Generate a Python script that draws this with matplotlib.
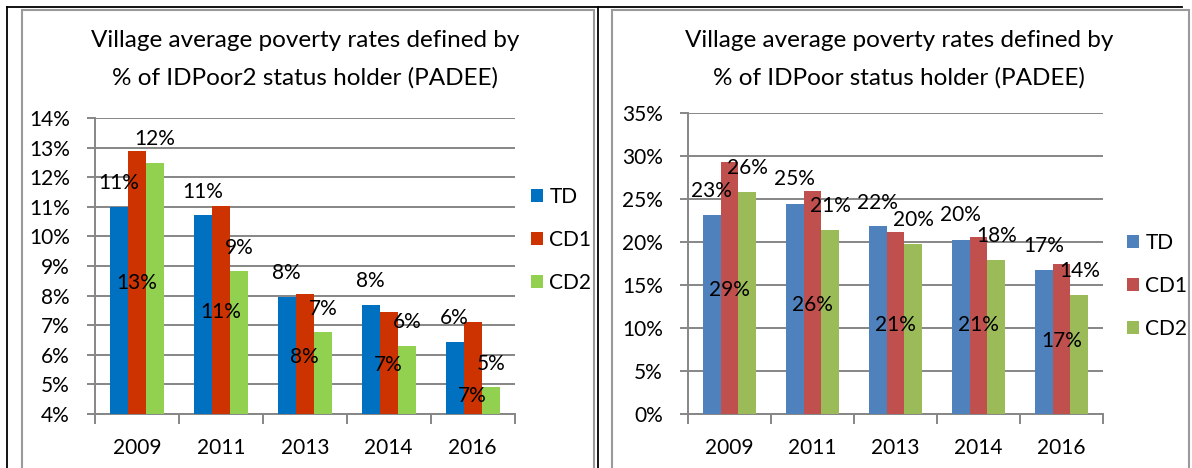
import numpy as np
import matplotlib.pyplot as plt
from matplotlib.patches import Rectangle
from matplotlib.lines import Line2D

plt.rcParams['font.family'] = ['Lato', 'DejaVu Sans']

# данні
years = ['2009', '2011', '2013', '2014', '2016']
series = ['TD', 'CD1', 'CD2']

# ліва діаграма: IDPoor2 (%)
td_p2 = [11.0, 10.73, 7.95, 7.67, 6.43]
cd1_p2 = [12.9, 11.04, 8.05, 7.45, 7.11]
cd2_p2 = [12.48, 8.82, 6.77, 6.30, 4.90]
td_p2_lbl = ['11%', '11%', '8%', '8%', '6%']
cd1_p2_lbl = ['13%', '11%', '8%', '7%', '7%']
cd2_p2_lbl = ['12%', '9%', '7%', '6%', '5%']
td_p2_lbl_y = [11.8, 11.51, 8.76, 8.48, 7.25]
cd1_p2_lbl_y = [8.43, 7.46, 5.94, 5.66, 4.61]
cd2_p2_lbl_y = [13.29, 9.6, 7.54, 7.1, 5.68]

# права діаграма: IDPoor (%)
td_p = [23.2, 24.5, 21.84, 20.3, 16.8]
cd1_p = [29.3, 26.0, 21.2, 20.6, 17.5]
cd2_p = [25.9, 21.45, 19.8, 17.9, 13.9]
td_p_lbl = ['23%', '25%', '22%', '20%', '17%']
cd1_p_lbl = ['29%', '26%', '21%', '21%', '17%']
cd2_p_lbl = ['26%', '21%', '20%', '18%', '14%']
td_p_lbl_y = [26.0, 27.35, 24.55, 23.2, 19.6]
cd1_p_lbl_y = [14.5, 12.7, 10.4, 10.4, 8.57]
cd2_p_lbl_y = [28.6, 24.25, 22.6, 20.7, 16.7]

W, H = 1192, 468
fig = plt.figure(figsize=(W / 100, H / 100), dpi=100)


def fx(px):
    return px / W


def fy(py):
    return (H - py) / H


grid_c = '#868686'
fs = 15

# рамки таблиці та діаграм
fig.add_artist(Line2D([fx(6.7), fx(1182)], [fy(7), fy(7)], color='black', lw=1.3))
fig.add_artist(Line2D([fx(6.7), fx(6.7)], [fy(7), 0], color='black', lw=1.3))
fig.add_artist(Line2D([fx(597.5), fx(597.5)], [fy(7), 0], color='black', lw=1.3))
fig.add_artist(Rectangle((fx(21.7), -0.05), fx(594.3 - 21.7), fy(9.5) + 0.05,
                         fill=False, ec='#9a9a9a', lw=1.5))
fig.add_artist(Rectangle((fx(611.7), -0.05), fx(1189 - 611.7), fy(9.5) + 0.05,
                         fill=False, ec='#9a9a9a', lw=1.5))


def draw(rect, vals, lbls, lbl_ys, colors, ylim, step, title2, title_x, leg_xy):
    ax = fig.add_axes(rect)
    x = np.arange(len(years))
    bw = 0.215
    for i, (v, lb, ly, c) in enumerate(zip(vals, lbls, lbl_ys, colors)):
        pos = x + (i - 1) * bw
        ax.bar(pos, v, bw, color=c, label=series[i], zorder=3)
        for px_, t, yy in zip(pos, lb, ly):
            ax.text(px_, yy, t, ha='center', va='center', fontsize=fs, zorder=4)
    ax.set_xlim(-0.5, len(years) - 0.5)
    ax.set_ylim(*ylim)
    yt = np.arange(ylim[0], ylim[1] + step / 2, step)
    ax.set_yticks(yt)
    ax.set_yticklabels([f'{int(round(t))}%' for t in yt])
    ax.set_xticks(x)
    ax.set_xticklabels(years)
    ax.set_xticks(np.arange(-0.5, len(years)), minor=True)
    ax.tick_params(axis='x', which='major', length=0, pad=17, labelsize=fs)
    ax.tick_params(axis='x', which='minor', length=7, width=1.4, color=grid_c)
    ax.tick_params(axis='y', length=6, width=1.4, color=grid_c, pad=12, labelsize=fs)
    ax.grid(axis='y', color=grid_c, lw=1.4, zorder=0)
    for s in ['top', 'right']:
        ax.spines[s].set_visible(False)
    for s in ['left', 'bottom']:
        ax.spines[s].set_color(grid_c)
        ax.spines[s].set_linewidth(1.4)
    fig.text(title_x, fy(46.7), 'Village average poverty rates defined by',
             ha='center', va='baseline', fontsize=17.5)
    fig.text(title_x, fy(85), title2, ha='center', va='baseline', fontsize=17.5)
    ax.legend(loc='center left', bbox_to_anchor=leg_xy, bbox_transform=fig.transFigure,
              frameon=False, fontsize=fs, handlelength=0.58, handleheight=0.58,
              handletextpad=0.3, labelspacing=1.1, borderpad=0, borderaxespad=0)
    return ax


draw([fx(95), fy(414), fx(514.6 - 95), fy(118) - fy(414)],
     [td_p2, cd1_p2, cd2_p2], [td_p2_lbl, cd1_p2_lbl, cd2_p2_lbl],
     [td_p2_lbl_y, cd1_p2_lbl_y, cd2_p2_lbl_y],
     ['#0070C0', '#CC3300', '#92D050'], (4, 14), 1,
     '% of IDPoor2 status holder (PADEE)', fx(305.5), (fx(531), fy(240)))

draw([fx(688), fy(414.3), fx(1103 - 688), fy(113.3) - fy(414.3)],
     [td_p, cd1_p, cd2_p], [td_p_lbl, cd1_p_lbl, cd2_p_lbl],
     [td_p_lbl_y, cd1_p_lbl_y, cd2_p_lbl_y],
     ['#4F81BD', '#C0504D', '#9BBB59'], (0, 35), 5,
     '% of IDPoor status holder (PADEE)', fx(898.7), (fx(1127), fy(286)))

fig.savefig('out.png', dpi=100)
